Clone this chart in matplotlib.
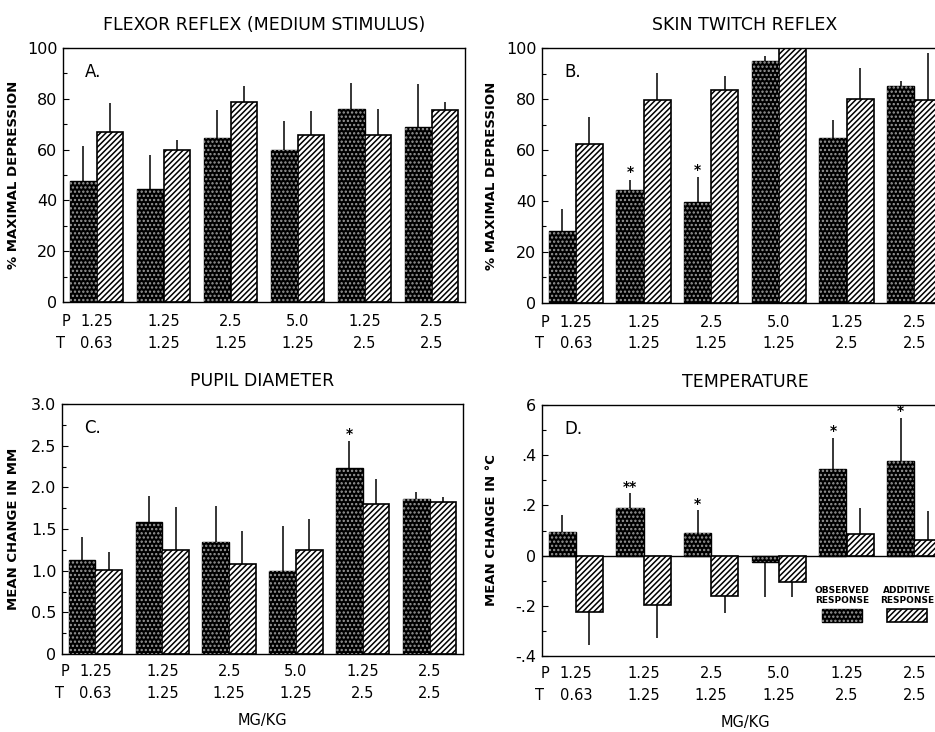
import numpy as np
import matplotlib

matplotlib.use("Agg")
import matplotlib.pyplot as plt
from matplotlib.patches import Rectangle

plt.rcParams["font.family"] = ["DejaVu Sans"]
plt.rcParams["hatch.linewidth"] = 1.1
plt.rcParams["axes.unicode_minus"] = False

# doses (mg/kg) for each group
p_dose = ["1.25", "1.25", "2.5", "5.0", "1.25", "2.5"]
t_dose = ["0.63", "1.25", "1.25", "1.25", "2.5", "2.5"]

# A: flexor reflex, % maximal depression
a_obs = [47.5, 44.6, 64.6, 59.7, 76.1, 68.9]
a_obs_err = [13.8, 13.4, 11.1, 11.7, 10.1, 17.1]
a_add = [66.9, 60.0, 78.6, 65.6, 65.9, 75.7]
a_add_err = [11.4, 3.6, 6.6, 9.7, 10.2, 2.9]

# B: skin twitch reflex
b_obs = [28.4, 44.4, 39.5, 94.8, 64.7, 85.2]
b_obs_err = [8.6, 4.0, 9.8, 2.2, 7.2, 1.7]
b_add = [62.4, 79.7, 83.4, 100.0, 80.1, 79.7]
b_add_err = [10.6, 10.5, 5.5, 0.0, 12.1, 18.3]
b_stars = ["", "*", "*", "", "", ""]

# C: pupil diameter, mm
c_obs = [1.13, 1.59, 1.34, 1.00, 2.23, 1.86]
c_obs_err = [0.28, 0.31, 0.44, 0.54, 0.33, 0.09]
c_add = [1.01, 1.25, 1.08, 1.25, 1.80, 1.82]
c_add_err = [0.22, 0.51, 0.40, 0.37, 0.30, 0.07]
c_stars = ["", "", "", "", "*", ""]

# D: temperature, deg C
d_obs = [0.094, 0.19, 0.09, -0.024, 0.346, 0.376]
d_obs_err = [0.066, 0.06, 0.09, 0.14, 0.124, 0.174]
d_add = [-0.225, -0.198, -0.16, -0.107, 0.087, 0.064]
d_add_err = [0.131, 0.132, 0.07, 0.058, 0.101, 0.113]
d_stars = ["", "**", "*", "", "*", "*"]

W, H = 935, 732
fig = plt.figure(figsize=(W / 100, H / 100), dpi=100)

DOTS = dict(facecolor="none", edgecolor="#9a9a9a", hatch="....", lw=0)
STRIPES = dict(facecolor="white", edgecolor="black", hatch="//////", lw=1.2)


def px_axes(left, top, right, bottom):
    return fig.add_axes([left / W, 1 - bottom / H, (right - left) / W, (bottom - top) / H])


def below(ax, text, x, px, **kw):
    # text hung under the axes, px pixels below its bottom edge
    ax.annotate(text, xy=(x, 0), xycoords=("data", "axes fraction"),
                xytext=(0, -px * 0.72), textcoords="offset points",
                ha="center", va="center", annotation_clip=False, **kw)


def draw_bars(ax, x, vals, errs, kind):
    if kind == "obs":
        ax.bar(x, vals, 0.4, color="black", edgecolor="black", lw=1.0, zorder=2)
        ax.bar(x, vals, 0.4, zorder=3, **DOTS)
    else:
        ax.bar(x, vals, 0.4, zorder=2, **STRIPES)
    for xi, v, e in zip(x, vals, errs):
        sgn = 1 if v >= 0 else -1
        ax.plot([xi, xi], [v, v + sgn * e], color="black", lw=1.1, zorder=1,
                solid_capstyle="butt")


def panel(ax, obs, obs_err, add, add_err, ylim, major, minor, ticklabels,
          ylabel, title, letter, stars=None, star_off=0.0, pt_off=(20, 41)):
    x = np.arange(len(obs))
    draw_bars(ax, x - 0.2, obs, obs_err, "obs")
    draw_bars(ax, x + 0.2, add, add_err, "add")
    if stars:
        for xi, v, e, s in zip(x - 0.2, obs, obs_err, stars):
            if s:
                ax.text(xi, v + e + star_off, s, ha="center", va="center",
                        fontsize=10, fontweight="bold")
    ax.set_xlim(-0.5, 5.5)
    ax.set_ylim(*ylim)
    ax.set_yticks(major)
    ax.set_yticklabels(ticklabels, fontsize=11.5)
    ax.set_yticks(minor, minor=True)
    ax.set_xticks([])
    ax.tick_params(axis="y", which="both", direction="in", pad=4, length=4, width=0.8)
    ax.tick_params(axis="y", which="minor", length=3)
    for s in ax.spines.values():
        s.set_linewidth(1.0)
    ax.set_title(title, fontsize=12.5, pad=13)
    ax.set_ylabel(ylabel, fontsize=9.5, fontweight="bold")
    ax.text(0.055, 0.905, letter, transform=ax.transAxes, fontsize=12,
            ha="left", va="center")
    for xi, pd, td in zip(x, p_dose, t_dose):
        below(ax, pd, xi, pt_off[0], fontsize=10.5)
        below(ax, td, xi, pt_off[1], fontsize=10.5)
    below(ax, "P", -0.45, pt_off[0], fontsize=10.5)
    below(ax, "T", -0.54, pt_off[1], fontsize=10.5)


ax_a = px_axes(63, 48, 465, 302)
ax_b = px_axes(542, 48, 948, 303)
ax_c = px_axes(62, 404, 463, 654)
ax_d = px_axes(542, 405, 948, 656)

panel(ax_a, a_obs, a_obs_err, a_add, a_add_err, (0, 100),
      [0, 20, 40, 60, 80, 100], np.arange(10, 100, 10),
      ["0", "20", "40", "60", "80", "100"],
      "% MAXIMAL DEPRESSION", "FLEXOR REFLEX (MEDIUM STIMULUS)", "A.")
ax_a.yaxis.set_label_coords(-43 / 402, 0.5)

panel(ax_b, b_obs, b_obs_err, b_add, b_add_err, (0, 100),
      [0, 20, 40, 60, 80, 100], np.arange(10, 100, 10),
      ["0", "20", "40", "60", "80", "100"],
      "% MAXIMAL DEPRESSION", "SKIN TWITCH REFLEX", "B.", stars=b_stars, star_off=3)
ax_b.yaxis.set_label_coords(-44 / 406, 0.5)

panel(ax_c, c_obs, c_obs_err, c_add, c_add_err, (0, 3.0),
      [0, 0.5, 1.0, 1.5, 2.0, 2.5, 3.0], np.arange(0.25, 3.0, 0.5),
      ["0", "0.5", "1.0", "1.5", "2.0", "2.5", "3.0"],
      "MEAN CHANGE IN MM", "PUPIL DIAMETER", "C.", stars=c_stars, star_off=0.08,
      pt_off=(18, 39))
ax_c.yaxis.set_label_coords(-42 / 401, 0.5)
below(ax_c, "MG/KG", 2.5, 66, fontsize=10.5)

panel(ax_d, d_obs, d_obs_err, d_add, d_add_err, (-0.4, 0.6),
      [-0.4, -0.2, 0, 0.2, 0.4, 0.6], np.arange(-0.3, 0.6, 0.2),
      ["-.4", "-.2", "0", ".2", ".4", "6"],
      "MEAN CHANGE IN \u00b0C", "TEMPERATURE", "D.", stars=d_stars, star_off=0.025,
      pt_off=(18, 39))
ax_d.yaxis.set_label_coords(-44 / 406, 0.5)
below(ax_d, "MG/KG", 2.5, 66, fontsize=10.5)
ax_d.axhline(0, color="black", lw=1.0, zorder=1)

# key in panel D
ax_d.add_patch(Rectangle((0.69, 0.135), 0.0985, 0.052, transform=ax_d.transAxes,
                         facecolor="black", edgecolor="black", lw=1, zorder=4))
ax_d.add_patch(Rectangle((0.69, 0.135), 0.0985, 0.052, transform=ax_d.transAxes,
                         zorder=5, **DOTS))
ax_d.add_patch(Rectangle((0.85, 0.135), 0.0985, 0.052, transform=ax_d.transAxes,
                         zorder=4, **STRIPES))
ax_d.text(0.739, 0.24, "OBSERVED\nRESPONSE", transform=ax_d.transAxes, fontsize=6.5,
          fontweight="bold", ha="center", va="center", linespacing=1.1)
ax_d.text(0.899, 0.24, "ADDITIVE\nRESPONSE", transform=ax_d.transAxes, fontsize=6.5,
          fontweight="bold", ha="center", va="center", linespacing=1.1)

fig.savefig("out.png", dpi=100)
